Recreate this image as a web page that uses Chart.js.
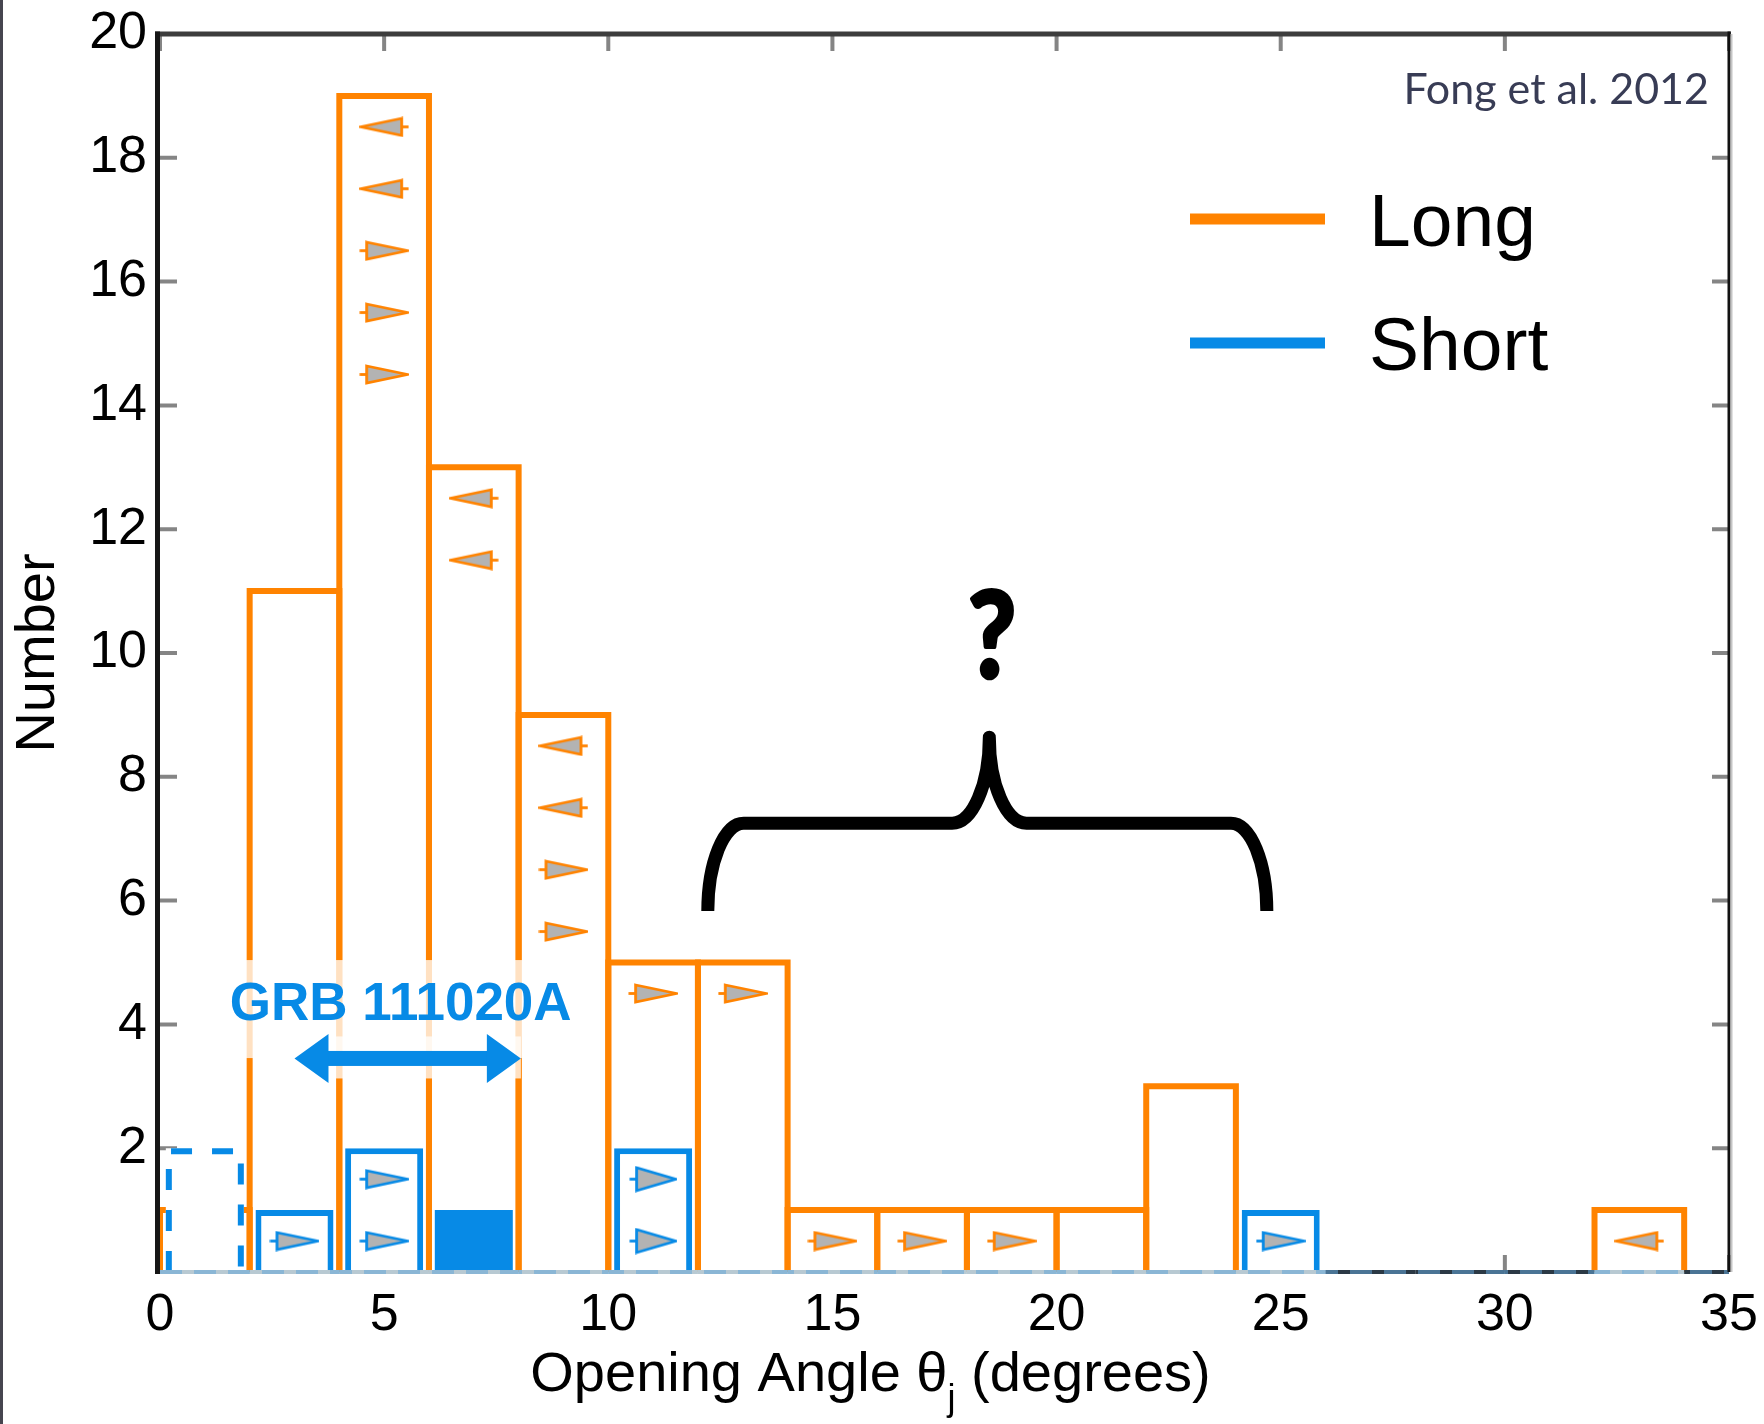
<!DOCTYPE html>
<html>
<head>
<meta charset="utf-8">
<title>Opening angle distribution of long and short GRBs</title>
<script src="https://cdn.jsdelivr.net/npm/chart.js@4/dist/chart.umd.min.js"></script>
<style>
  html, body { margin: 0; padding: 0; background: #fff; }
  canvas { display: block; }
</style>
</head>
<body>
<canvas id="hist" width="1764" height="1424"></canvas>
<script>
// ---- data -------------------------------------------------------------
// 2-degree bins from 0 to 34 degrees, given by their centres
const binCenters = [1, 3, 5, 7, 9, 11, 13, 15, 17, 19, 21, 23, 25, 27, 29, 31, 33];
// long GRBs per bin
const longCounts = [1, 11, 19, 13, 9, 5, 5, 1, 1, 1, 1, 3, 0, 0, 0, 0, 1];
// short GRBs per bin (outlined bars)
const shortCounts = [0, 1, 2, 0, 0, 2, 0, 0, 0, 0, 0, 0, 1, 0, 0, 0, 0];
// GRB 111020A (filled bar)
const grbCounts = [0, 0, 0, 1, 0, 0, 0, 0, 0, 0, 0, 0, 0, 0, 0, 0, 0];
// short GRBs with an uncertain angle (dashed bar)
const shortTentativeCounts = [2, 0, 0, 0, 0, 0, 0, 0, 0, 0, 0, 0, 0, 0, 0, 0, 0];

// limits: lower limits point right, upper limits point left
const longLowerLimitX = [5, 5, 5, 9, 9, 11, 13, 15, 17, 19];
const longLowerLimitY = [16.5, 15.5, 14.5, 6.5, 5.5, 4.5, 4.5, 0.5, 0.5, 0.5];
const longUpperLimitX = [5, 5, 7, 7, 9, 9, 33];
const longUpperLimitY = [18.5, 17.5, 12.5, 11.5, 8.5, 7.5, 0.5];
const shortLowerLimitX = [3, 5, 5, 25];
const shortLowerLimitY = [0.5, 1.5, 0.5, 0.5];
const shortWideLimitX = [11, 11];
const shortWideLimitY = [1.5, 0.5];

// tick labels
const xTicks = [0, 5, 10, 15, 20, 25, 30, 35];
const yTicks = [2, 4, 6, 8, 10, 12, 14, 16, 18, 20];

// ---- styling ----------------------------------------------------------
const ORANGE = '#ff8300';
const BLUE = '#078ae6';
const MARKER_FILL = '#b3b3b3';

// annotation anchors, in data units
const grbLabel = { text: 'GRB 111020A', x: 5.37, y: 4.07 };
const grbArrow = { x0: 3.0, x1: 8.05, y: 3.45 };
const brace = { x0: 12.22, x1: 24.69, xm: 18.5, yEnd: 5.83, yBar: 7.25, yTip: 8.64, corner: 0.8, mid: 0.83 };
const question = { text: '?', x: 18.56, y: 9.58 };

function bars(counts) {
  return binCenters.map((x, i) => ({ x, y: counts[i] })).filter(p => p.y > 0);
}
function points(xs, ys) {
  return xs.map((x, i) => ({ x, y: ys[i] }));
}

// elongated limit triangle used as point style
function limitMarker(dir, stroke, w, h) {
  const c = document.createElement('canvas');
  c.width = w; c.height = h;
  const g = c.getContext('2d');
  if (dir < 0) { g.translate(w, 0); g.scale(-1, 1); }
  const stub = 6, pad = 2;
  g.lineJoin = 'miter';
  g.beginPath();
  g.moveTo(stub + 1.5, pad);
  g.lineTo(w - 1.5, h / 2);
  g.lineTo(stub + 1.5, h - pad);
  g.closePath();
  g.fillStyle = MARKER_FILL;
  g.fill();
  g.strokeStyle = stroke;
  g.lineWidth = 2.8;
  g.stroke();
  g.beginPath();
  g.moveTo(0.5, h / 2);
  g.lineTo(stub + 1.5, h / 2);
  g.stroke();
  return c;
}

const orangeRight = limitMarker(1, ORANGE, 50, 21);
const orangeLeft = limitMarker(-1, ORANGE, 50, 21);
const blueRight = limitMarker(1, BLUE, 50, 21);
const blueRightWide = limitMarker(1, BLUE, 48, 27);

// ---- extra drawing: frame, ticks, outlines, annotations, legend --------
const figureExtras = {
  id: 'figureExtras',
  beforeDraw(chart) {
    const { ctx, width, height } = chart;
    ctx.save();
    ctx.fillStyle = '#ffffff';
    ctx.fillRect(0, 0, width, height);
    ctx.fillStyle = '#46454f';
    ctx.fillRect(0, 0, 3, height);
    ctx.restore();
  },
  beforeDatasetsDraw(chart) {
    // inward tick marks on all four sides
    const { ctx, chartArea: a, scales: { x, y } } = chart;
    const L = 17;
    ctx.save();
    ctx.strokeStyle = '#858585';
    ctx.lineWidth = 4;
    ctx.beginPath();
    for (const v of xTicks) {
      const px = x.getPixelForValue(v);
      ctx.moveTo(px, a.top); ctx.lineTo(px, a.top + L);
      ctx.moveTo(px, a.bottom); ctx.lineTo(px, a.bottom - L);
    }
    for (const v of yTicks) {
      if (v >= y.max) continue;
      const py = y.getPixelForValue(v);
      ctx.moveTo(a.left, py); ctx.lineTo(a.left + L, py);
      ctx.moveTo(a.right, py); ctx.lineTo(a.right - L, py);
    }
    ctx.stroke();
    ctx.restore();
  },
  afterDatasetDraw(chart, args) {
    // histogram outlines centred on the bin edges
    const ds = chart.data.datasets[args.index];
    if (!ds.outline) return;
    const { ctx } = chart;
    const o = ds.outline;
    ctx.save();
    ctx.strokeStyle = o.color;
    ctx.lineWidth = o.width;
    ctx.lineJoin = 'miter';
    ctx.setLineDash(o.dash || []);
    for (const el of args.meta.data) {
      const { x, y, base, width } = el.getProps(['x', 'y', 'base', 'width'], true);
      const inset = o.inset ? o.width / 2 : 0;
      const l = x - width / 2 + inset, r = x + width / 2 - inset, t = y + inset;
      ctx.beginPath();
      ctx.moveTo(l, base);
      ctx.lineTo(l, t);
      ctx.lineTo(r, t);
      ctx.lineTo(r, base);
      ctx.stroke();
    }
    ctx.restore();
  },
  afterDatasetsDraw(chart) {
    const { ctx, chartArea: a, scales: { x, y } } = chart;
    const X = v => x.getPixelForValue(v);
    const Y = v => y.getPixelForValue(v);
    ctx.save();

    // bottom axis: pale where bars stand on it, dark elsewhere, with blue dashes
    ctx.lineWidth = 4;
    binCenters.forEach((c, i) => {
      const covered = longCounts[i] + shortCounts[i] + grbCounts[i] + shortTentativeCounts[i] > 0;
      ctx.strokeStyle = covered ? '#b8c9d2' : '#2b3945';
      ctx.beginPath();
      ctx.moveTo(X(c - 1), a.bottom);
      ctx.lineTo(X(c + 1), a.bottom);
      ctx.stroke();
    });
    ctx.strokeStyle = '#2b3945';
    ctx.beginPath();
    ctx.moveTo(X(binCenters[binCenters.length - 1] + 1), a.bottom);
    ctx.lineTo(a.right, a.bottom);
    ctx.stroke();
    ctx.strokeStyle = 'rgba(100,165,215,0.55)';
    ctx.setLineDash([22, 12]);
    ctx.beginPath();
    ctx.moveTo(a.left, a.bottom);
    ctx.lineTo(a.right, a.bottom);
    ctx.stroke();
    ctx.setLineDash([]);

    // box lines
    ctx.strokeStyle = '#3d3d3d';
    ctx.lineWidth = 5;
    ctx.beginPath();
    ctx.moveTo(a.left - 5, a.top);
    ctx.lineTo(a.right + 2, a.top);
    ctx.stroke();
    ctx.strokeStyle = '#161616';
    ctx.beginPath();
    ctx.moveTo(a.left - 2.5, a.top - 2.5);
    ctx.lineTo(a.left - 2.5, a.bottom + 2);
    ctx.stroke();
    ctx.lineWidth = 3;
    ctx.strokeStyle = '#111111';
    ctx.beginPath();
    ctx.moveTo(a.right, a.top - 2.5);
    ctx.lineTo(a.right, a.bottom);
    ctx.stroke();
    ctx.lineWidth = 2;
    ctx.strokeStyle = '#c4c4c4';
    ctx.beginPath();
    ctx.moveTo(a.right + 2.5, a.top);
    ctx.lineTo(a.right + 2.5, a.bottom);
    ctx.stroke();

    // GRB 111020A label and its angle range
    ctx.font = 'bold 53px "Liberation Sans"';
    const tw = ctx.measureText(grbLabel.text).width;
    const tx = X(grbLabel.x), ty = Y(grbLabel.y);
    const ax0 = X(grbArrow.x0), ax1 = X(grbArrow.x1), ay = Y(grbArrow.y);
    ctx.fillStyle = 'rgba(255,255,255,0.76)';
    ctx.fillRect(tx - tw / 2 - 8, ty - 60, tw + 16, 98);
    ctx.fillRect(ax0, ay - 22, ax1 - ax0, 42);
    ctx.fillStyle = BLUE;
    ctx.textAlign = 'center';
    ctx.textBaseline = 'alphabetic';
    ctx.fillText(grbLabel.text, tx, ty);
    const head = 34, hh = 24.5, shaft = 15;
    ctx.fillRect(ax0 + head - 1, ay - shaft / 2, ax1 - ax0 - 2 * head + 2, shaft);
    ctx.beginPath();
    ctx.moveTo(ax0, ay); ctx.lineTo(ax0 + head, ay - hh); ctx.lineTo(ax0 + head, ay + hh); ctx.closePath();
    ctx.moveTo(ax1, ay); ctx.lineTo(ax1 - head, ay - hh); ctx.lineTo(ax1 - head, ay + hh); ctx.closePath();
    ctx.fill();

    // curly brace over the wide-angle region
    const bl = X(brace.x0), br = X(brace.x1), bm = X(brace.xm);
    const yE = Y(brace.yEnd), yB = Y(brace.yBar), yT = Y(brace.yTip);
    const cw = brace.corner * (X(1) - X(0)), mw = brace.mid * (X(1) - X(0));
    const k = 0.55;
    ctx.strokeStyle = '#000';
    ctx.lineWidth = 13;
    ctx.lineCap = 'butt';
    ctx.lineJoin = 'round';
    ctx.beginPath();
    ctx.moveTo(bl, yE);
    ctx.bezierCurveTo(bl, yE - k * (yE - yB), bl + cw * (1 - k), yB, bl + cw, yB);
    ctx.lineTo(bm - mw, yB);
    ctx.bezierCurveTo(bm - mw + k * mw, yB, bm, yT + k * (yB - yT), bm, yT);
    ctx.bezierCurveTo(bm, yT + k * (yB - yT), bm + mw - k * mw, yB, bm + mw, yB);
    ctx.lineTo(br - cw, yB);
    ctx.bezierCurveTo(br - cw * (1 - k), yB, br, yE - k * (yE - yB), br, yE);
    ctx.stroke();

    // question mark
    ctx.save();
    ctx.translate(X(question.x), Y(question.y) - 2);
    ctx.scale(0.88, 1);
    ctx.font = 'bold 118px Lato';
    ctx.fillStyle = '#000';
    ctx.strokeStyle = '#000';
    ctx.lineWidth = 4.5;
    ctx.lineJoin = 'round';
    ctx.textAlign = 'center';
    ctx.fillText(question.text, 0, 0);
    ctx.strokeText(question.text, 0, 0);
    ctx.restore();

    // legend
    const legendItems = chart.data.datasets.filter(d => d.legendRank).sort((p, q) => p.legendRank - q.legendRank);
    ctx.font = '75px "Liberation Sans"';
    ctx.textAlign = 'left';
    ctx.lineCap = 'butt';
    legendItems.forEach((d, i) => {
      const ly = a.top + 185 + i * 124;
      ctx.strokeStyle = d.legendColor;
      ctx.lineWidth = 11;
      ctx.beginPath();
      ctx.moveTo(a.right - 539, ly);
      ctx.lineTo(a.right - 404, ly);
      ctx.stroke();
      ctx.fillStyle = '#000';
      ctx.fillText(d.label, a.right - 360, ly + 27);
    });

    // credit
    ctx.font = '43px Lato';
    ctx.fillStyle = '#383c55';
    ctx.textAlign = 'right';
    ctx.fillText('Fong et al. 2012', a.right - 20, a.top + 70);

    // x-axis title with subscript
    const main = 'Opening Angle \u03b8', sub = 'j', tail = ' (degrees)';
    const big = '56px "Liberation Sans"', small = '36px "Liberation Sans"';
    ctx.font = big; const w1 = ctx.measureText(main).width; const w3 = ctx.measureText(tail).width;
    ctx.font = small; const w2 = ctx.measureText(sub).width;
    const total = w1 + w2 + w3;
    let px = (a.left + a.right) / 2 - 74 - total / 2;
    const base = a.bottom + 119;
    ctx.fillStyle = '#000';
    ctx.textAlign = 'left';
    ctx.font = big; ctx.fillText(main, px, base); px += w1;
    ctx.font = small; ctx.fillText(sub, px, base + 19); px += w2;
    ctx.font = big; ctx.fillText(tail, px, base);

    ctx.restore();
  }
};

// ---- chart ------------------------------------------------------------
new Chart(document.getElementById('hist'), {
  type: 'bar',
  data: {
    datasets: [
      { type: 'scatter', label: 'Long lower limits', data: points(longLowerLimitX, longLowerLimitY), pointStyle: orangeRight, order: 0 },
      { type: 'scatter', label: 'Long upper limits', data: points(longUpperLimitX, longUpperLimitY), pointStyle: orangeLeft, order: 0 },
      { type: 'scatter', label: 'Short lower limits', data: points(shortLowerLimitX, shortLowerLimitY), pointStyle: blueRight, order: 0 },
      { type: 'scatter', label: 'Short lower limits (wide)', data: points(shortWideLimitX, shortWideLimitY), pointStyle: blueRightWide, order: 0 },
      {
        label: 'Short', data: bars(shortCounts), order: 1, grouped: false,
        backgroundColor: '#ffffff', borderColor: BLUE, borderWidth: 6, borderSkipped: 'start',
        barPercentage: 0.87, categoryPercentage: 1, legendColor: BLUE, legendRank: 2
      },
      {
        label: 'GRB 111020A', data: bars(grbCounts), order: 1, grouped: false,
        backgroundColor: BLUE, borderWidth: 0, barPercentage: 0.87, categoryPercentage: 1
      },
      {
        label: 'Short (uncertain)', data: bars(shortTentativeCounts), order: 1, grouped: false,
        backgroundColor: '#ffffff', borderWidth: 0, barPercentage: 0.87, categoryPercentage: 1,
        outline: { color: BLUE, width: 6, dash: [21, 20], inset: true }
      },
      {
        label: 'Long', data: bars(longCounts), order: 2, grouped: false,
        backgroundColor: '#ffffff', borderWidth: 0, barPercentage: 1, categoryPercentage: 1,
        outline: { color: ORANGE, width: 6 }, legendColor: ORANGE, legendRank: 1
      }
    ]
  },
  options: {
    responsive: false,
    animation: false,
    events: [],
    devicePixelRatio: 1,
    layout: { padding: { left: 0, right: 35, top: 34, bottom: 0 } },
    plugins: { legend: { display: false }, tooltip: { enabled: false } },
    scales: {
      x: {
        type: 'linear', min: 0, max: 35, offset: false,
        afterBuildTicks: s => { s.ticks = xTicks.map(v => ({ value: v })); },
        afterFit: s => { s.height = 152; s.paddingLeft = 0; s.paddingRight = 0; s.paddingTop = 0; s.paddingBottom = 0; },
        grid: { display: false, drawTicks: false, tickLength: 0, offset: false },
        border: { display: false },
        ticks: {
          padding: 12, color: '#000', autoSkip: false, maxRotation: 0,
          font: { family: 'Liberation Sans', size: 52 }
        }
      },
      y: {
        type: 'linear', min: 0, max: 20,
        afterBuildTicks: s => { s.ticks = yTicks.map(v => ({ value: v })); },
        afterFit: s => { s.width = 160; s.paddingLeft = 0; s.paddingRight = 0; s.paddingTop = 0; s.paddingBottom = 0; },
        grid: { display: false, drawTicks: false, tickLength: 0 },
        border: { display: false },
        ticks: {
          padding: 13, color: '#000',
          font: { family: 'Liberation Sans', size: 52 }
        },
        title: {
          display: true, text: 'Number', color: '#000',
          font: { family: 'Liberation Sans', size: 56 },
          padding: { top: 5, bottom: 0 }
        }
      }
    }
  },
  plugins: [figureExtras]
});
</script>
</body>
</html>
